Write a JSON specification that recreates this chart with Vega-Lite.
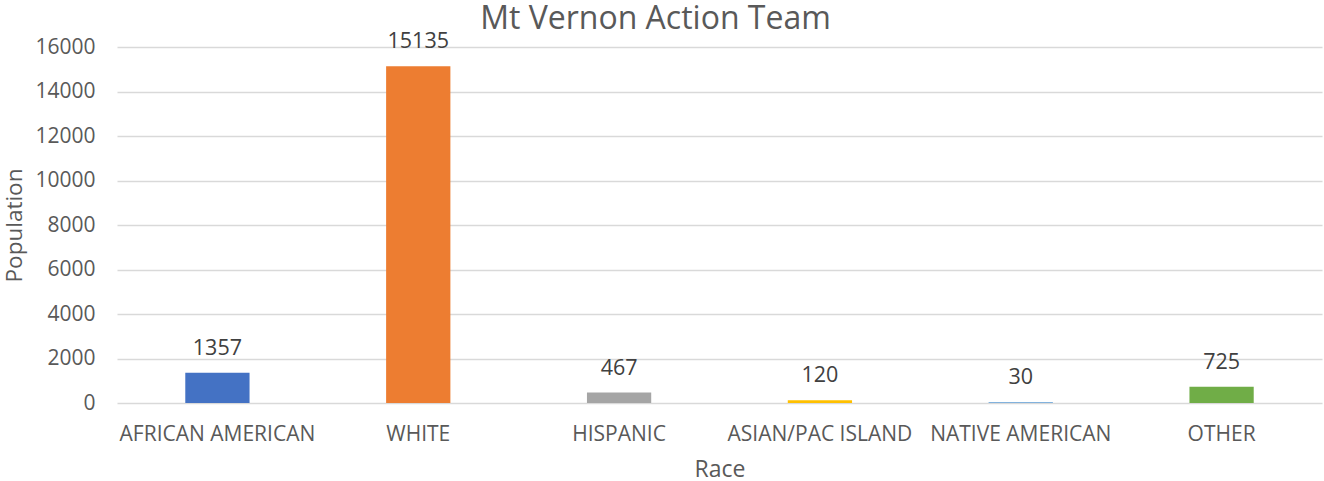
{
  "$schema": "https://vega.github.io/schema/vega-lite/v6.json",
  "autosize": "none",
  "width": 1205,
  "height": 356,
  "padding": {"left": 117, "top": 47, "right": 2, "bottom": 78},
  "background": "white",
  "config": {
    "font": "Open Sans",
    "view": {"stroke": null}
  },
  "title": {
    "text": "Mt Vernon Action Team",
    "fontSize": 32,
    "fontWeight": "normal",
    "color": "#595959",
    "anchor": "middle",
    "dx": -64,
    "offset": -5,
    "font": "Open Sans"
  },
  "data": {
    "values": [
      {"race": "AFRICAN AMERICAN", "population": 1357},
      {"race": "WHITE", "population": 15135},
      {"race": "HISPANIC", "population": 467},
      {"race": "ASIAN/PAC ISLAND", "population": 120},
      {"race": "NATIVE AMERICAN", "population": 30},
      {"race": "OTHER", "population": 725}
    ]
  },
  "encoding": {
    "x": {
      "field": "race",
      "type": "nominal",
      "sort": null,
      "scale": {"paddingInner": 0, "paddingOuter": 0},
      "axis": {
        "title": "Race",
        "titleFontSize": 23,
        "titleFontWeight": "normal",
        "titleColor": "#595959",
        "titlePadding": 14,
        "labelAngle": 0,
        "labelFontSize": 21,
        "labelLimit": 0,
        "labelColor": "#595959",
        "labelPadding": 20,
        "ticks": false,
        "domain": false
      }
    },
    "y": {
      "field": "population",
      "type": "quantitative",
      "scale": {"domain": [0, 16000]},
      "axis": {
        "title": "Population",
        "titleFontSize": 22.5,
        "titleFontWeight": "normal",
        "titleColor": "#595959",
        "titlePadding": 8,
        "values": [0, 2000, 4000, 6000, 8000, 10000, 12000, 14000, 16000],
        "format": "d",
        "labelFontSize": 21,
        "labelColor": "#595959",
        "labelPadding": 22,
        "ticks": false,
        "domain": false,
        "gridColor": "#d9d9d9",
        "gridWidth": 1.5
      }
    }
  },
  "layer": [
    {
      "mark": {"type": "bar", "width": {"band": 0.32}},
      "encoding": {
        "color": {
          "field": "race",
          "type": "nominal",
          "scale": {
            "domain": ["AFRICAN AMERICAN", "WHITE", "HISPANIC", "ASIAN/PAC ISLAND", "NATIVE AMERICAN", "OTHER"],
            "range": ["#4472C4", "#ED7D31", "#A5A5A5", "#FFC000", "#5B9BD5", "#70AD47"]
          },
          "legend": null
        }
      }
    },
    {
      "mark": {"type": "text", "baseline": "bottom", "dy": -13, "fontSize": 21.5, "color": "#404040"},
      "encoding": {
        "text": {"field": "population", "type": "quantitative", "format": "d"}
      }
    }
  ]
}
